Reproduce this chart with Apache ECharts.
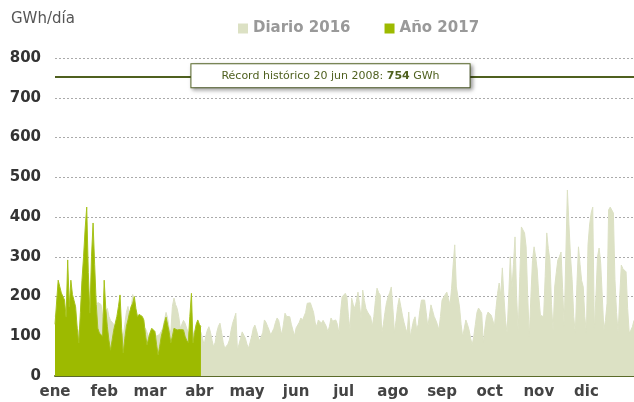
<!DOCTYPE html>
<html>
<head>
<meta charset="utf-8">
<script src="https://cdn.jsdelivr.net/npm/echarts@6.0.0/dist/echarts.min.js"></script>
<style>
  html, body { margin: 0; padding: 0; background: #fff; }
  #dataV { width: 634px; height: 402px; }
</style>
</head>
<body>
<div id="dataV"></div>
<script>
// month labels and the day index where each month starts (2016 is a leap year)
var monthNames = ["ene", "feb", "mar", "abr", "may", "jun", "jul", "ago", "sep", "oct", "nov", "dic"];
var monthStarts = [0, 31, 60, 91, 121, 152, 182, 213, 244, 274, 305, 335];

// daily values 2016, GWh/día
var diario2016 = [
  150,160,175,180,170,160,150,140,165,150,
  170,160,150,140,120,110,130,150,160,170,
  180,170,150,140,150,160,175,185,190,180,
  150,140,160,170,150,140,145,130,110,95,
  100,120,110,100,130,160,175,150,170,205,
  208,160,140,120,110,100,110,120,110,100,
  95,105,115,110,100,95,105,110,120,140,
  160,145,120,110,175,196,180,170,150,120,
  125,140,133,120,110,100,120,110,105,100,
  125,121,110,95,78,100,115,124,110,90,
  73,85,110,125,133,110,85,70,65,80,
  91,115,133,145,158,65,80,95,111,108,
  95,80,70,85,100,120,128,115,100,88,
  83,110,141,135,125,115,103,108,120,135,
  146,140,120,103,130,158,150,148,149,130,
  115,101,121,125,135,146,140,136,160,183,
  182,184,186,160,135,124,141,138,133,140,
  143,125,111,125,146,138,136,141,130,108,
  160,199,195,208,199,150,116,196,180,170,
  188,211,180,141,216,190,170,161,155,149,
  124,150,190,221,210,204,108,130,160,185,
  199,210,224,170,108,140,175,196,175,153,
  135,120,108,161,98,120,140,149,116,130,
  165,191,190,191,160,124,150,179,165,150,
  141,130,116,150,191,195,205,211,195,179,
  220,280,330,224,200,174,130,98,120,141,
  130,116,95,78,100,130,160,171,166,158,
  83,120,150,161,158,153,140,124,170,208,
  234,203,272,200,140,108,200,300,216,280,
  350,200,111,250,375,380,360,325,200,98,
  200,290,325,300,267,200,153,150,149,250,
  360,320,292,180,112,224,260,292,300,312,
  220,124,300,468,380,300,242,150,108,230,
  325,280,240,224,150,108,330,380,410,425,
  116,200,300,322,284,200,116,140,183,418,
  425,430,410,242,160,108,200,279,270,265,
  262,170,108,115,124,140
];

// daily values 2017 (1 ene - 2 abr)
var anio2017 = [
  130,133,241,225,209,200,191,148,292,174,
  241,205,190,174,120,83,160,241,300,370,
  425,260,158,300,385,280,180,120,108,104,
  100,241,170,124,90,65,90,115,133,150,
  175,204,120,58,95,125,141,160,175,183,
  200,170,149,155,158,150,141,105,78,95,
  110,120,118,112,80,53,75,100,116,135,
  148,149,110,83,100,120,118,116,116,117,
  115,116,100,90,84,150,208,83,110,130,
  141,130,124
];

var record = 754;

var days = [];
for (var i = 0; i < diario2016.length; i++) days.push(i);

var myChart = echarts.init(document.getElementById("dataV"));

var option = {
  animation: false,
  title: {
    text: "GWh/día",
    left: 6,
    top: 7,
    textStyle: { fontFamily: "DejaVu Sans", fontSize: 15, fontWeight: "normal", color: "#555" }
  },
  legend: {
    left: 233,
    top: 16,
    icon: "rect",
    itemWidth: 10,
    itemHeight: 10,
    itemGap: 34,
    textStyle: { fontFamily: "DejaVu Sans", fontSize: 15, fontWeight: "bold", color: "#999" },
    data: ["Diario 2016", "Año 2017"]
  },
  grid: { left: 55, right: 0, top: 58, bottom: 26 },
  xAxis: {
    type: "category",
    boundaryGap: false,
    data: days,
    axisLine: { lineStyle: { color: "#5b6b2a", width: 2 } },
    axisTick: { show: false },
    axisLabel: {
      interval: function (idx) { return monthStarts.indexOf(idx) >= 0; },
      formatter: function (v, idx) { return monthNames[monthStarts.indexOf(idx)]; },
      fontFamily: "DejaVu Sans",
      fontSize: 15,
      fontWeight: "bold",
      color: "#444",
      margin: 9
    }
  },
  yAxis: {
    type: "value",
    min: 0,
    max: 800,
    interval: 100,
    axisLine: { show: false },
    axisTick: { show: false },
    axisLabel: { fontFamily: "DejaVu Sans", fontSize: 15, fontWeight: "bold", color: "#333", margin: 14 },
    splitLine: { lineStyle: { color: "#aaa", type: [2, 2], width: 1 } }
  },
  series: [
    {
      name: "Diario 2016",
      type: "line",
      data: diario2016,
      symbol: "none",
      itemStyle: { color: "#dce1c4" },
      lineStyle: { color: "#dce1c4", width: 1 },
      areaStyle: { color: "#dce1c4", opacity: 1 },
      z: 2,
      markLine: {
        silent: true,
        symbol: "none",
        lineStyle: { color: "#4f601f", width: 2, type: "solid" },
        label: {
          position: "middle",
          offset: [-14, 16],
          formatter: "{a|Récord histórico 20 jun 2008: }{b|" + record + "}{a| GWh}",
          backgroundColor: "#fff",
          borderColor: "#5a6b2a",
          borderWidth: 1,
          padding: [6, 30],
          shadowColor: "rgba(0,0,0,0.35)",
          shadowBlur: 4,
          shadowOffsetX: 2,
          shadowOffsetY: 2,
          rich: {
            a: { fontFamily: "DejaVu Sans", fontSize: 11, color: "#4f601f" },
            b: { fontFamily: "DejaVu Sans", fontSize: 11, fontWeight: "bold", color: "#4f601f" }
          }
        },
        data: [{ yAxis: record }]
      }
    },
    {
      name: "Año 2017",
      type: "line",
      data: anio2017,
      symbol: "none",
      itemStyle: { color: "#9dba00" },
      lineStyle: { color: "#a6c21a", width: 1 },
      areaStyle: { color: "#9dba00", opacity: 1 },
      z: 3
    }
  ]
};

myChart.setOption(option);
</script>
</body>
</html>
